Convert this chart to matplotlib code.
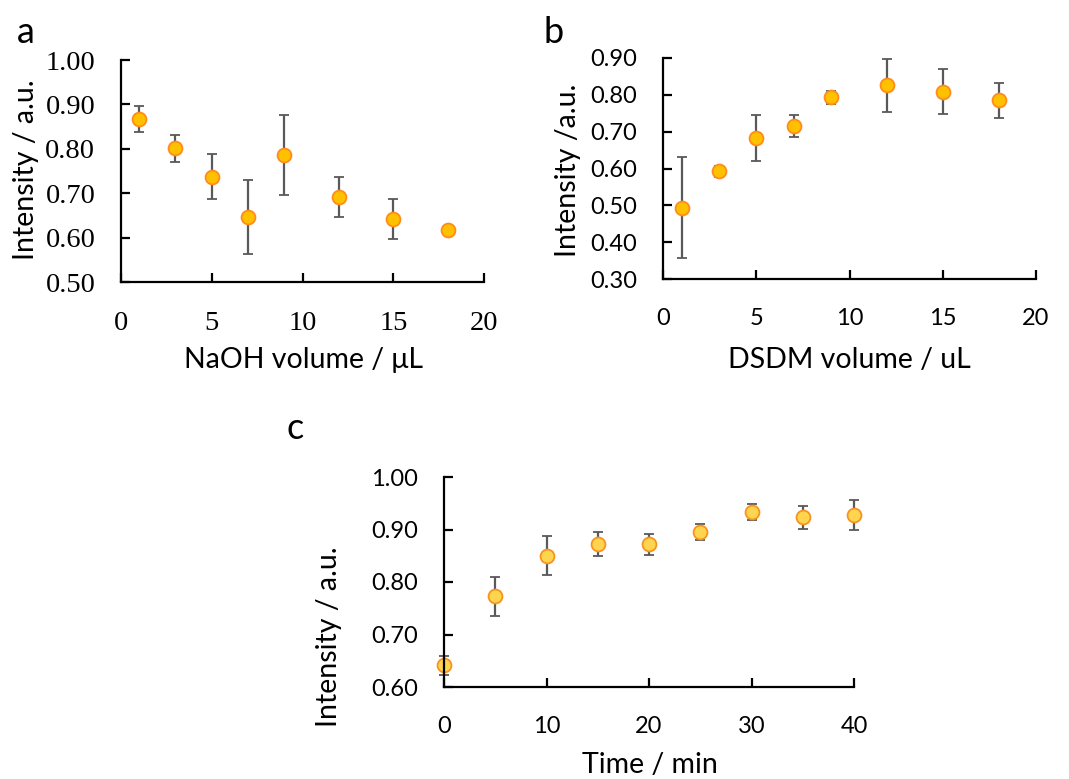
import matplotlib
matplotlib.use("Agg")
import matplotlib.pyplot as plt

# panel a: NaOH volume
naoh_vol = [1, 3, 5, 7, 9, 12, 15, 18]
naoh_int = [0.867, 0.801, 0.737, 0.647, 0.786, 0.692, 0.642, 0.618]
naoh_err = [0.029, 0.031, 0.051, 0.083, 0.091, 0.045, 0.045, 0.004]

# panel b: DSDM volume
dsdm_vol = [1, 3, 5, 7, 9, 12, 15, 18]
dsdm_int = [0.493, 0.592, 0.683, 0.716, 0.793, 0.826, 0.809, 0.785]
dsdm_err = [0.137, 0.016, 0.063, 0.030, 0.017, 0.072, 0.062, 0.047]

# panel c: time
time_min = [0, 5, 10, 15, 20, 25, 30, 35, 40]
time_int = [0.641, 0.773, 0.850, 0.873, 0.872, 0.895, 0.933, 0.923, 0.928]
time_err = [0.019, 0.037, 0.037, 0.023, 0.020, 0.015, 0.015, 0.022, 0.029]

sans = "Lato"
serif = "Liberation Serif"
W, H = 1069, 779

fig = plt.figure(figsize=(W / 100, H / 100), dpi=100)

def style(ax, xlim, ylim, xticks, yticks, tickfont, tsize):
    ax.spines['top'].set_visible(False)
    ax.spines['right'].set_visible(False)
    ax.spines['left'].set_linewidth(1.6)
    ax.spines['bottom'].set_linewidth(1.6)
    ax.set_xlim(xlim)
    ax.set_ylim(ylim)
    ax.set_xticks(xticks)
    ax.set_yticks(yticks)
    ax.set_yticklabels(["%.2f" % v for v in yticks])
    ax.tick_params(direction='in', length=6.5, width=1.6, colors='black', labelsize=tsize)
    ax.tick_params(axis='x', pad=21)
    ax.tick_params(axis='y', pad=18.5)
    for lab in ax.get_xticklabels() + ax.get_yticklabels():
        lab.set_family(tickfont)

def labels(ax, xl, yl, xpos, ypos):
    # positions are label centres in pixels from top-left of the figure
    ax.set_xlabel(xl, family=sans, fontsize=20.5, va='center')
    ax.set_ylabel(yl, family=sans, fontsize=20.5, va='center')
    ax.xaxis.set_label_coords(xpos[0] / W, 1 - xpos[1] / H, transform=fig.transFigure)
    ax.yaxis.set_label_coords(ypos[0] / W, 1 - ypos[1] / H, transform=fig.transFigure)

def points(ax, x, y, e, fill, edge):
    ax.errorbar(x, y, yerr=e, fmt='o', ms=10, mfc=fill, mec=edge, mew=1.3,
                ecolor='#595959', elinewidth=1.6, capsize=3.5, capthick=1.6, clip_on=False)

# a
ax1 = fig.add_axes([121 / W, 1 - 282 / H, 363 / W, 222 / H])
points(ax1, naoh_vol, naoh_int, naoh_err, '#FFC000', '#FF8C1A')
style(ax1, (0, 20), (0.5, 1.0), [0, 5, 10, 15, 20], [0.5, 0.6, 0.7, 0.8, 0.9, 1.0], serif, 20.5)
labels(ax1, "NaOH volume / \u03bcL", "Intensity / a.u.", (303, 360), (26, 170))

# b
ax2 = fig.add_axes([663 / W, 1 - 279 / H, 373 / W, 221 / H])
points(ax2, dsdm_vol, dsdm_int, dsdm_err, '#FFC000', '#FF8C1A')
style(ax2, (0, 20), (0.3, 0.9), [0, 5, 10, 15, 20], [0.3, 0.4, 0.5, 0.6, 0.7, 0.8, 0.9], sans, 17)
labels(ax2, "DSDM volume / uL", "Intensity /a.u.", (849, 360), (568, 170))

# c
ax3 = fig.add_axes([444 / W, 1 - 687 / H, 410 / W, 210 / H])
points(ax3, time_min, time_int, time_err, '#FFD54F', '#F7931E')
style(ax3, (0, 40), (0.6, 1.0), [0, 10, 20, 30, 40], [0.6, 0.7, 0.8, 0.9, 1.0], sans, 17)
labels(ax3, "Time / min", "Intensity / a.u.", (650, 765), (329, 637))

fig.text(0.016, 0.945, "a", family=sans, fontsize=26)
fig.text(0.508, 0.945, "b", family=sans, fontsize=26)
fig.text(0.268, 0.437, "c", family=sans, fontsize=26)

fig.savefig("out.png", dpi=100)
